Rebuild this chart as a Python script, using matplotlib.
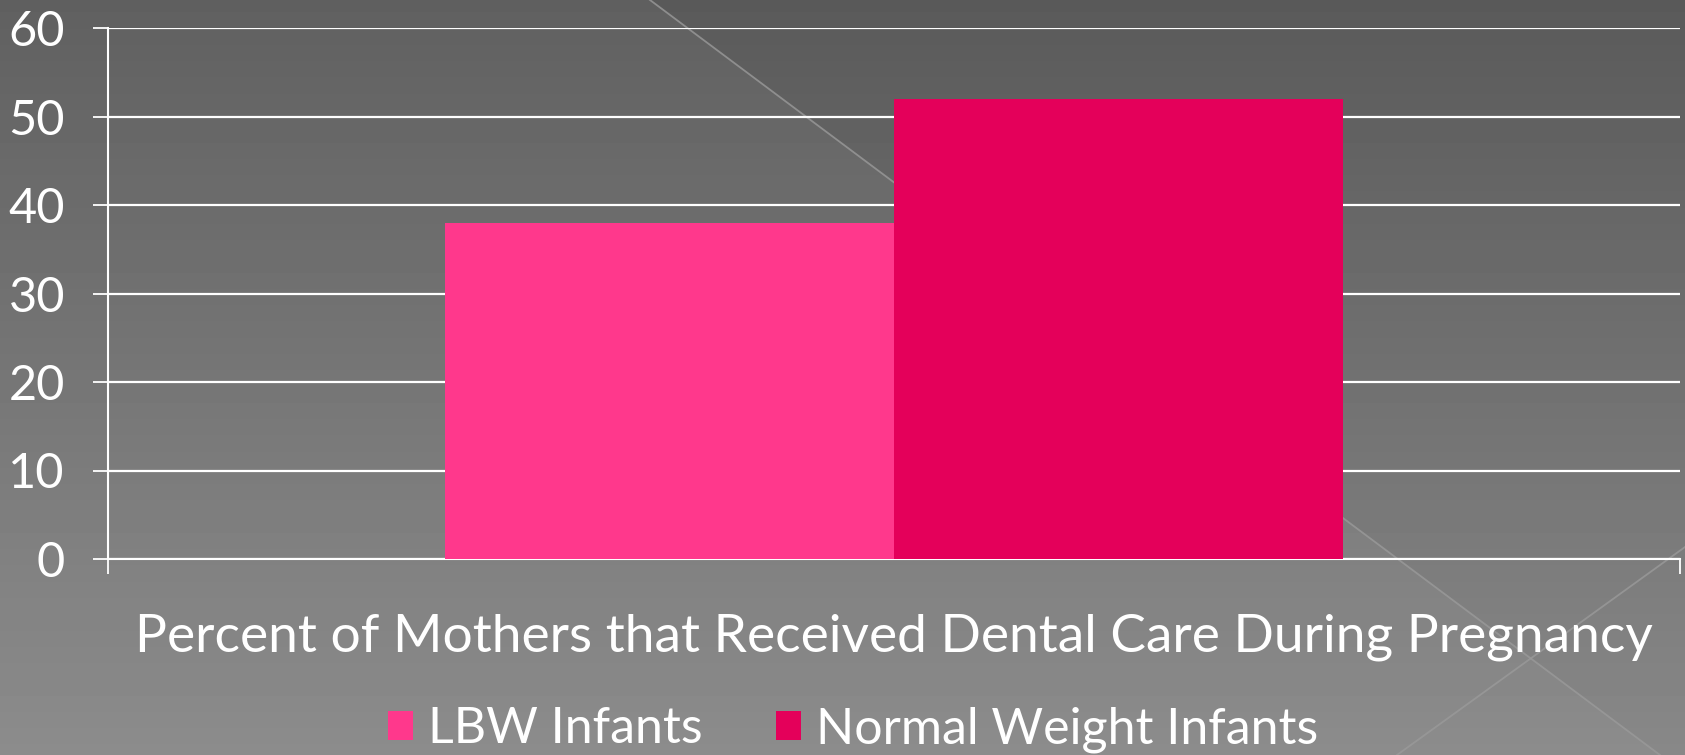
import numpy as np
import matplotlib.pyplot as plt
from matplotlib.patches import Polygon

# chart data
category = "Percent of Mothers that Received Dental Care During Pregnancy"
series = ["LBW Infants", "Normal Weight Infants"]
values = [38, 52]
colors = ["#FF388C", "#E4005A"]
yticks = [0, 10, 20, 30, 40, 50, 60]

W, H = 1685, 755
plt.rcParams['font.family'] = ['Lato', 'DejaVu Sans']

fig = plt.figure(figsize=(W / 100, H / 100), dpi=100)

# slide background: vertical grey gradient with a lighter wedge and two thin diagonals
bg = fig.add_axes([0, 0, 1, 1], zorder=0)
grad = np.linspace(0x5a, 0x88, 200)[:, None] / 255.0
bg.imshow(np.repeat(grad, 2, axis=1), cmap="gray", vmin=0, vmax=1,
          extent=(0, W, H, 0), aspect="auto", interpolation="bicubic")
bg.add_patch(Polygon([[0, 0], [650, 0], [1660, H], [0, H]], closed=True,
                     facecolor="white", alpha=0.04, edgecolor="none"))
bg.plot([650, 1660], [0, H], color="#9a9a9a", lw=1.3, alpha=0.8)
bg.plot([1397, W], [H, 547], color="#9a9a9a", lw=1.3, alpha=0.8)
bg.set_xlim(0, W)
bg.set_ylim(H, 0)
bg.axis("off")

left, right, bottom, top = 108, 1680, 559, 28
ax = fig.add_axes([left / W, (H - bottom) / H, (right - left) / W, (bottom - top) / H], zorder=1)
ax.patch.set_alpha(0)

bw = 0.2856
x = np.array([-bw / 2, bw / 2])
for xi, v, c, lab in zip(x, values, colors, series):
    ax.bar(xi, v, width=bw, color=c, label=lab, zorder=3)

ax.set_xlim(-0.5, 0.5)
ax.set_ylim(0, 60)
ax.set_yticks(yticks)
ax.set_xticks([-0.5, 0.5])
ax.set_xticklabels([])
ax.yaxis.grid(True, color="white", lw=1.6, zorder=1)
ax.set_axisbelow(True)
for s in ["top", "right"]:
    ax.spines[s].set_visible(False)
for s in ["left", "bottom"]:
    ax.spines[s].set_color("white")
    ax.spines[s].set_linewidth(1.5)
ax.tick_params(axis="both", colors="white", length=11, width=1.3, direction="out")
ax.tick_params(axis="y", labelsize=35, pad=20)

ax.set_xlabel(category, color="white", fontsize=38.3, labelpad=25)

leg = ax.legend(loc="center", bbox_to_anchor=(0.474, -0.321), ncol=2, frameon=False,
                fontsize=36, labelcolor="white", handlelength=0.5, handleheight=0.5,
                handletextpad=0.3, columnspacing=1.45)

fig.savefig("out.png", dpi=100)
